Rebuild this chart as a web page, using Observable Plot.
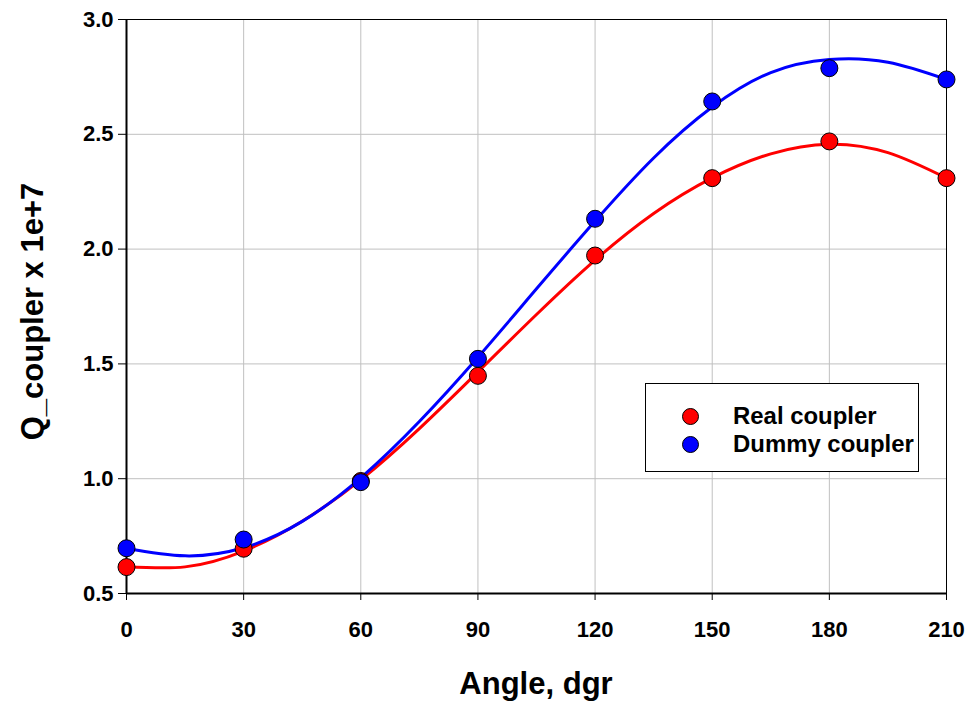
<!DOCTYPE html>
<html>
<head>
<meta charset="utf-8">
<script src="https://cdn.jsdelivr.net/npm/d3@7"></script>
<script src="https://cdn.jsdelivr.net/npm/@observablehq/plot@0.6"></script>
<style>
  html, body { margin: 0; padding: 0; background: white; }
  #wrap { position: relative; width: 979px; height: 701px; font-family: "Liberation Sans", Arial, sans-serif; }
  #wrap svg { position: absolute; left: 0; top: 0; }
  #legend { position: absolute; left: 645px; top: 383px; width: 274px; height: 89px; box-sizing: border-box;
            border: 1px solid black; background: white; }
  .item { position: absolute; left: 0; height: 24px; font-size: 23px; font-weight: bold; line-height: 24px; }
  .sw { position: absolute; width: 15px; height: 15px; border: 1px solid black; border-radius: 50%; top: 3.5px; }
  .lab { position: absolute; white-space: nowrap; transform: scaleX(1.04); transform-origin: 0 50%; }
  .title { position: absolute; font-weight: bold; white-space: nowrap; text-align: center; color: black; }
</style>
</head>
<body>
<div id="wrap"></div>
<script>
// Measured data points
const angles = [0, 30, 60, 90, 120, 150, 180, 210];
const realQ = [0.615, 0.695, 0.99, 1.448, 1.972, 2.309, 2.469, 2.309];
const dummyQ = [0.697, 0.735, 0.985, 1.522, 2.132, 2.643, 2.788, 2.739];

// Fitted curves
const curveAngles = [0, 15, 30, 45, 60, 75, 90, 105, 120, 135, 150, 165, 180, 195, 210];
const realFit = [0.618, 0.616, 0.685, 0.815, 0.995, 1.218, 1.465, 1.715, 1.952, 2.155, 2.31, 2.415, 2.457, 2.42, 2.309];
const dummyFit = [0.697, 0.664, 0.699, 0.814, 1.004, 1.249, 1.529, 1.827, 2.122, 2.397, 2.619, 2.769, 2.826, 2.814, 2.739];

const xTicks = [0, 30, 60, 90, 120, 150, 180, 210];
const yTicks = [0.5, 1.0, 1.5, 2.0, 2.5, 3.0];
const seriesNames = ["Real coupler", "Dummy coupler"];
const seriesColors = ["#ff0000", "#0000ff"];
const xTitle = "Angle, dgr";
const yTitle = "Q_coupler x 1e+7";

const realPts = angles.map((a, i) => ({a, q: realQ[i]}));
const dummyPts = angles.map((a, i) => ({a, q: dummyQ[i]}));
const realLine = curveAngles.map((a, i) => ({a, q: realFit[i]}));
const dummyLine = curveAngles.map((a, i) => ({a, q: dummyFit[i]}));

const chart = Plot.plot({
  width: 979,
  height: 701,
  marginLeft: 126,
  marginRight: 33,
  marginTop: 19,
  marginBottom: 108,
  style: {fontFamily: "Liberation Sans, Arial, sans-serif", fontSize: "22px", fontWeight: "bold", background: "white", color: "black", overflow: "visible"},
  x: {domain: [0, 210]},
  y: {domain: [0.5, 3.0]},
  marks: [
    Plot.gridX(xTicks, {stroke: "#c0c0c0", strokeOpacity: 1, strokeWidth: 1}),
    Plot.gridY(yTicks, {stroke: "#c0c0c0", strokeOpacity: 1, strokeWidth: 1}),
    Plot.line(realLine, {x: "a", y: "q", stroke: seriesColors[0], strokeWidth: 3, curve: "natural"}),
    Plot.line(dummyLine, {x: "a", y: "q", stroke: seriesColors[1], strokeWidth: 3, curve: "natural"}),
    Plot.frame({stroke: "black", strokeWidth: 1}),
    Plot.ruleX([0], {stroke: "black", strokeWidth: 2}),
    Plot.ruleY([0.5], {stroke: "black", strokeWidth: 2}),
    Plot.dot(realPts, {x: "a", y: "q", r: 8.5, fill: seriesColors[0], stroke: "black", strokeWidth: 1}),
    Plot.dot(dummyPts, {x: "a", y: "q", r: 8.5, fill: seriesColors[1], stroke: "black", strokeWidth: 1}),
    Plot.axisX(xTicks, {tickSize: 7, tickPadding: 21, fontSize: 22, fontWeight: "bold", label: null, stroke: "black"}),
    Plot.axisY(yTicks, {tickSize: 8, tickPadding: 5, fontSize: 22, fontWeight: "bold", label: null, tickFormat: d3.format(".1f"), stroke: "black"})
  ]
});

const wrap = document.getElementById("wrap");
wrap.appendChild(chart);

// Axis titles
const xt = document.createElement("div");
xt.className = "title";
xt.textContent = xTitle;
Object.assign(xt.style, {left: "336px", width: "400px", top: "668px", fontSize: "31px", lineHeight: "31px"});
wrap.appendChild(xt);

const yt = document.createElement("div");
yt.className = "title";
yt.textContent = yTitle;
// box centred at (32, 311), rotated -90deg about its centre
Object.assign(yt.style, {left: (32 - 200) + "px", width: "400px", top: (311 - 15.5) + "px", height: "31px",
  fontSize: "31px", lineHeight: "31px", transform: "rotate(-90deg)", transformOrigin: "50% 50%"});
wrap.appendChild(yt);

// Legend (HTML overlay)
const legend = document.createElement("div");
legend.id = "legend";
seriesNames.forEach((name, i) => {
  const item = document.createElement("div");
  item.className = "item";
  item.style.top = (20 + i * 28) + "px";
  const sw = document.createElement("div");
  sw.className = "sw";
  sw.style.left = "36px";
  sw.style.background = seriesColors[i];
  const lab = document.createElement("div");
  lab.className = "lab";
  lab.style.left = "87px";
  lab.textContent = name;
  item.appendChild(sw);
  item.appendChild(lab);
  legend.appendChild(item);
});
wrap.appendChild(legend);
</script>
</body>
</html>
